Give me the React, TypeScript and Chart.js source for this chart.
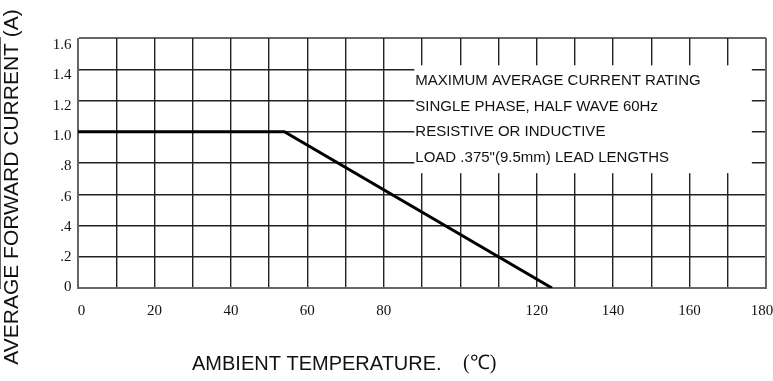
import React, { useEffect, useRef } from 'react';
import { Chart, registerables } from 'chart.js';

Chart.register(...registerables);

// ---- data ----
const xGridValues = [0, 10, 20, 30, 40, 50, 60, 70, 80, 90, 100, 110, 120, 130, 140, 150, 160, 170, 180];
const xInnerLabels = [20, 40, 60, 80, 120, 140, 160];
const xEndLabels = [0, 180];
const yGridValues = [0, 0.2, 0.4, 0.6, 0.8, 1.0, 1.2, 1.4, 1.6];
const yTickText = ['0', '.2', '.4', '.6', '.8', '1.0', '1.2', '1.4', '1.6'];
const curveTemp = [0, 54, 124];
const curveCurrent = [1.0, 1.0, 0];
const noteLines = [
  'MAXIMUM AVERAGE CURRENT RATING',
  'SINGLE PHASE, HALF WAVE 60Hz',
  'RESISTIVE OR INDUCTIVE',
  'LOAD .375"(9.5mm) LEAD LENGTHS',
];
const xTitle = 'AMBIENT TEMPERATURE.';
const xTitleUnit = '(℃)';
const yTitle = 'AVERAGE FORWARD CURRENT (A)';

const SANS = '"Liberation Sans", Arial, sans-serif';
const SERIF = '"Liberation Serif", "Times New Roman", serif';
const X_AXIS_HEIGHT = 93;

const overlayPlugin = {
  id: 'overlay',
  afterLayout(chart: any) {
    // the end-label axis shares the band of the main label axis
    const s = chart.scales.xEnds;
    if (s) {
      s.top = chart.chartArea.bottom;
      s.bottom = s.top + X_AXIS_HEIGHT;
      s.height = X_AXIS_HEIGHT;
    }
  },
  beforeDatasetsDraw(chart: any) {
    const { ctx, scales } = chart;
    const x = scales.x;
    const y = scales.y;
    const left = x.getPixelForValue(88);
    const right = x.getPixelForValue(176.3);
    const top = y.getPixelForValue(1.425);
    const bottom = y.getPixelForValue(0.735);
    ctx.save();
    ctx.fillStyle = '#ffffff';
    ctx.fillRect(left, top, right - left, bottom - top);
    ctx.restore();
  },
  afterDraw(chart: any) {
    const { ctx, scales } = chart;
    const x = scales.x;
    const y = scales.y;
    const left = x.getPixelForValue(88);
    const top = y.getPixelForValue(1.425);
    ctx.save();
    ctx.fillStyle = '#111';
    ctx.textBaseline = 'middle';
    ctx.textAlign = 'left';
    ctx.font = `15px ${SANS}`;
    noteLines.forEach((t, i) => {
      ctx.fillText(t, left + 1, top + 16 + i * 25.5);
    });

    // x title
    ctx.font = `20px ${SANS}`;
    ctx.fillText(xTitle, 192, 364);
    ctx.font = `20px ${SERIF}`;
    ctx.fillText(xTitleUnit, 463, 364);

    // y title
    ctx.translate(12, 187);
    ctx.rotate(-Math.PI / 2);
    ctx.textAlign = 'center';
    ctx.font = `21px ${SANS}`;
    ctx.fillText(yTitle, 0, 0);
    ctx.restore();
  },
};

export default function App() {
  const ref = useRef<HTMLCanvasElement | null>(null);

  useEffect(() => {
    document.body.style.margin = '0';
    const canvas = ref.current;
    if (!canvas) return;

    const edgeWidth = (v: number, a: number, b: number) => (v === a || v === b ? 2 : 1.4);
    const edgeColor = (v: number, a: number, b: number) => (v === a || v === b ? '#666' : '#222');
    const labelTicks = {
      autoSkip: false,
      maxRotation: 0,
      callback: (v: any) => String(v),
      font: { family: SERIF, size: 15 },
      color: '#111',
      padding: 14,
    };

    const chart = new Chart(canvas, {
      type: 'line',
      data: {
        datasets: [
          {
            data: curveTemp.map((t, i) => ({ x: t, y: curveCurrent[i] })),
            xAxisID: 'x',
            yAxisID: 'y',
            borderColor: '#000',
            borderWidth: 3,
            pointRadius: 0,
            tension: 0,
            fill: false,
          },
        ],
      },
      options: {
        responsive: false,
        animation: false,
        devicePixelRatio: 1,
        layout: { padding: { top: 38, right: 7, left: 0, bottom: 0 } },
        plugins: { legend: { display: false }, tooltip: { enabled: false }, title: { display: false } },
        scales: {
          yl: {
            type: 'linear',
            position: 'left',
            min: -0.0033,
            max: 1.6462,
            afterBuildTicks: (s: any) => {
              s.ticks = yGridValues.map((v) => ({ value: v }));
            },
            afterFit: (s: any) => {
              s.width = 78;
              s.paddingTop = 0;
              s.paddingBottom = 0;
            },
            ticks: {
              callback: (_v: any, i: number) => yTickText[i],
              font: { family: SERIF, size: 15 },
              color: '#111',
              padding: 6.5,
            },
            grid: { display: false, drawTicks: false },
            border: { display: false },
          },
          y: {
            type: 'linear',
            position: 'left',
            min: 0,
            max: 1.6,
            afterBuildTicks: (s: any) => {
              s.ticks = yGridValues.map((v) => ({ value: v }));
            },
            afterFit: (s: any) => {
              s.width = 0;
              s.paddingTop = 0;
              s.paddingBottom = 0;
            },
            ticks: { display: false },
            grid: {
              drawTicks: false,
              color: (c: any) => edgeColor(c.tick?.value, 0, 1.6),
              lineWidth: (c: any) => edgeWidth(c.tick?.value, 0, 1.6),
            },
            border: { display: true, color: '#666', width: 2 },
          },
          x: {
            type: 'linear',
            position: 'bottom',
            min: 0,
            max: 180,
            afterBuildTicks: (s: any) => {
              s.ticks = xGridValues.map((v) => ({ value: v }));
            },
            afterFit: (s: any) => {
              s.height = 0;
              s.paddingLeft = 0;
              s.paddingRight = 0;
            },
            ticks: { display: false },
            grid: {
              drawTicks: false,
              color: (c: any) => edgeColor(c.tick?.value, 0, 180),
              lineWidth: (c: any) => edgeWidth(c.tick?.value, 0, 180),
            },
            border: { display: true, color: '#666', width: 2 },
          },
          xEnds: {
            type: 'linear',
            position: 'bottom',
            min: -0.9258,
            max: 181.06,
            afterBuildTicks: (s: any) => {
              s.ticks = xEndLabels.map((v) => ({ value: v }));
            },
            afterFit: (s: any) => {
              s.height = 0;
              s.paddingLeft = 0;
              s.paddingRight = 0;
            },
            ticks: labelTicks,
            grid: { display: false, drawTicks: false },
            border: { display: false },
          },
          xl: {
            type: 'linear',
            position: 'bottom',
            min: 0,
            max: 180,
            afterBuildTicks: (s: any) => {
              s.ticks = xInnerLabels.map((v) => ({ value: v }));
            },
            afterFit: (s: any) => {
              s.height = X_AXIS_HEIGHT;
              s.paddingLeft = 0;
              s.paddingRight = 0;
            },
            ticks: labelTicks,
            grid: { display: false, drawTicks: false },
            border: { display: false },
          },
        },
      },
      plugins: [overlayPlugin],
    } as any);

    return () => chart.destroy();
  }, []);

  return <canvas ref={ref} width={773} height={381} style={{ display: 'block' }} />;
}
